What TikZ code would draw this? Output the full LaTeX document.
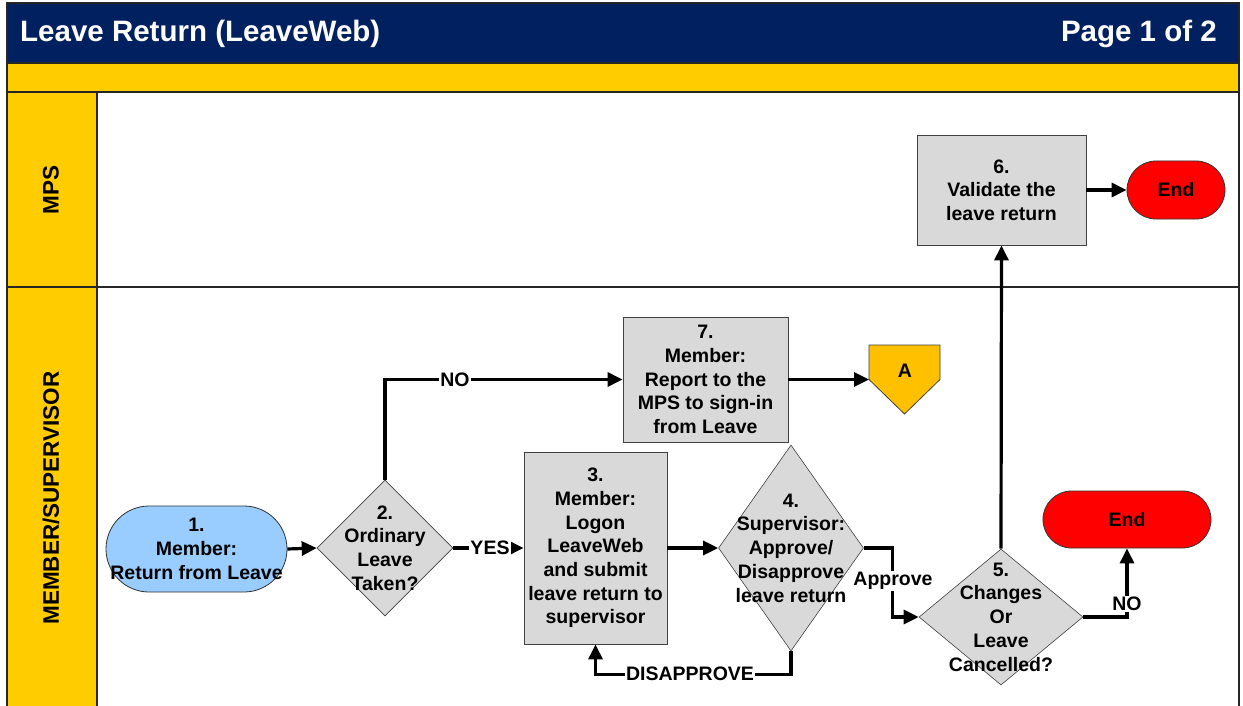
\documentclass[tikz,border=0pt]{standalone}
\usepackage{fontspec}
\setmainfont{Liberation Sans}
\usetikzlibrary{shapes.geometric,arrows.meta}
\definecolor{navy}{HTML}{002060}
\definecolor{laneyellow}{HTML}{FFCC00}
\definecolor{boxgray}{HTML}{D9D9D9}
\definecolor{skyblue}{HTML}{99CCFF}
\definecolor{endred}{HTML}{FF0000}
\definecolor{offpage}{HTML}{FFC000}
\begin{document}
\begin{tikzpicture}[x=1pt,y=-1pt,
  txt/.style={font=\bfseries\fontsize{19.5}{23.7}\selectfont, align=center, inner sep=0pt},
  procbox/.style={draw=black!75, line width=0.8pt, fill=boxgray, inner sep=0pt, txt},
  decision/.style={shape=diamond, draw=black!75, line width=0.6pt, fill=boxgray, inner sep=0pt},
  term/.style={draw=black!80, line width=0.8pt, inner sep=0pt, txt},
  flow/.style={line width=3.2pt, -{Triangle[length=15pt,width=14pt]}},
  lbl/.style={txt, fill=white, inner sep=1pt},
  lanetxt/.style={rotate=90, font=\bfseries\fontsize{22.5}{26}\selectfont, inner sep=0pt},
  frame/.style={line width=1.1pt, draw=black!85}
]
\useasboundingbox (0,0) rectangle (1243,706);
% header and lanes
\fill[navy] (7,3) rectangle (1239,63);
\fill[laneyellow] (7,63) rectangle (1239,92);
\fill[laneyellow] (7,92) rectangle (97,706);
\draw[frame] (7,706) -- (7,3) -- (1239,3) -- (1239,706);
\draw[frame] (7,63) -- (1239,63);
\draw[frame] (7,92) -- (1239,92);
\draw[frame] (7,287) -- (1239,287);
\draw[frame] (97,92) -- (97,706);
\node[anchor=base west, text=white, font=\bfseries\fontsize{29.5}{34}\selectfont, inner sep=0pt] (title) at (20,42) {Leave Return (LeaveWeb)};
\node[anchor=base east, text=white, font=\bfseries\fontsize{29.5}{34}\selectfont, inner sep=0pt] (page) at (1217,42) {Page 1 of 2};
\node[lanetxt] (lmps) at (51,190) {MPS};
\node[lanetxt] (lmem) at (51,498) {MEMBER/SUPERVISOR};
% nodes
\node[term, fill=skyblue, minimum width=181pt, minimum height=86pt, rounded corners=43pt] (n1) at (196.5,549) {1.\\Member:\\Return from Leave};
\node[decision, minimum width=136pt, minimum height=136pt] (n2) at (385,548) {};
\node[txt] (t2) at (n2) {2.\\Ordinary\\Leave\\Taken?};
\node[procbox, minimum width=143pt, minimum height=192pt] (n3) at (595.5,548) {3.\\Member:\\Logon\\LeaveWeb\\and submit\\leave return to\\supervisor};
\node[decision, minimum width=145pt, minimum height=206pt] (n4) at (791,548) {};
\node[txt] (t4) at (n4) {4.\\Supervisor:\\Approve/\\Disapprove\\leave return};
\node[decision, minimum width=164pt, minimum height=136pt] (n5) at (1001,617) {};
\node[txt] (t5) at (n5) {5.\\Changes\\Or\\Leave\\Cancelled?};
\node[procbox, minimum width=169pt, minimum height=110pt] (n6) at (1001.5,190) {6.\\Validate the\\leave return};
\node[procbox, minimum width=165pt, minimum height=125pt] (n7) at (705.5,379.5) {7.\\Member:\\Report to the\\MPS to sign-in\\from Leave};
\node[term, fill=endred, minimum width=98pt, minimum height=58pt, rounded corners=29pt] (e1) at (1176,190) {End};
\node[term, fill=endred, minimum width=168pt, minimum height=57pt, rounded corners=28.5pt] (e2) at (1127,519.5) {End};
\node[inner sep=0pt, outer sep=0pt, minimum width=71pt, minimum height=69pt] (A) at (904.5,379.5) {};
\draw[draw=black!75, line width=0.8pt, fill=offpage] (A.north west) -- (A.north east) -- (A.east) -- (A.south) -- (A.west) -- cycle;
\node[txt] (tA) at (905,371) {A};
% connectors
\draw[flow] (n1.east) -- (n2.west);
\draw[flow] (n2.east) -- (n3.west);
\draw[flow] (n2.north) |- (n7.west);
\draw[flow] (n3.east) -- (n4.west);
\draw[flow] (n4.south) -- ++(0,23) -| (n3.south);
\draw[flow] (n4.east) -- ++(29,0) |- (n5.west);
\draw[flow] (n5.north) -- (n6.south);
\draw[flow] (n5.east) -| (e2.south);
\draw[flow] (n7.east) -- (A.west);
\draw[flow] (n6.east) -- (e1.west);
% labels
\node[lbl] (lno1) at (455,379.5) {NO};
\node[lbl] (lyes) at (490,548) {YES};
\node[lbl] (ldis) at (690,674) {DISAPPROVE};
\node[lbl] (lapp) at (893,581) {Approve};
\node[lbl] (lno2) at (1127,604) {NO};
\end{tikzpicture}
\end{document}
